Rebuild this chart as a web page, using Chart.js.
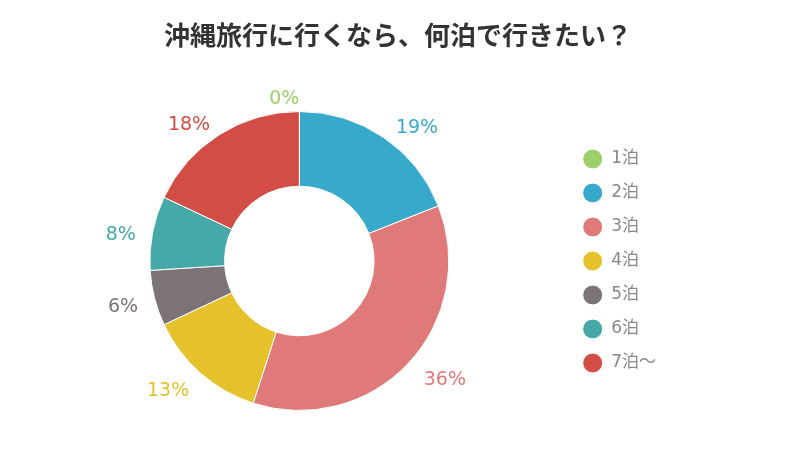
<!DOCTYPE html>
<html>
<head>
<meta charset="utf-8">
<script src="https://cdn.jsdelivr.net/npm/chart.js"></script>
<style>
  html, body { margin: 0; padding: 0; background: #fff; }
  #wrap { width: 800px; height: 450px; }
</style>
</head>
<body>
<div id="wrap"><canvas id="nightsChart" width="800" height="450"></canvas></div>
<script>
// データ
const labels = ['1泊', '2泊', '3泊', '4泊', '5泊', '6泊', '7泊～'];
const percents = [0, 19, 36, 13, 6, 8, 18];
const colors = ['#9dcf6b', '#37a9cb', '#e07a7a', '#e5c12b', '#7b7375', '#45a9a8', '#d14d45'];
const titleText = '沖縄旅行に行くなら、何泊で行きたい？';

// タイトル（キャンバス全幅の中央に描く）
const pageTitle = {
    id: 'pageTitle',
    afterDraw(chart) {
        const ctx = chart.ctx;
        ctx.save();
        ctx.font = 'bold 26px "Noto Sans CJK JP", sans-serif';
        ctx.fillStyle = '#333333';
        ctx.textAlign = 'center';
        ctx.textBaseline = 'middle';
        ctx.fillText(titleText, 398, 35);
        ctx.restore();
    }
};

// 外側のパーセント表示
const outerLabels = {
    id: 'outerLabels',
    afterDatasetsDraw(chart) {
        const ctx = chart.ctx;
        const meta = chart.getDatasetMeta(0);
        ctx.save();
        ctx.font = '19px "DejaVu Sans", Verdana, sans-serif';
        ctx.textBaseline = 'middle';
        meta.data.forEach((arc, i) => {
            const p = arc.getProps(['x', 'y', 'startAngle', 'endAngle', 'outerRadius'], true);
            const mid = (p.startAngle + p.endAngle) / 2;
            const r = p.outerRadius + 17;
            const right = Math.cos(mid) > 0.01;
            const x = p.x + Math.cos(mid) * r + (right ? 3 : 0);
            const y = p.y + Math.sin(mid) * r + 5;
            ctx.fillStyle = colors[i];
            ctx.textAlign = right ? 'left' : 'right';
            ctx.fillText(percents[i] + '%', x, y);
        });
        ctx.restore();
    }
};

new Chart(document.getElementById('nightsChart'), {
    type: 'doughnut',
    data: {
        labels: labels,
        datasets: [{
            data: percents,
            backgroundColor: colors,
            borderColor: '#ffffff',
            borderWidth: 1
        }]
    },
    options: {
        responsive: false,
        devicePixelRatio: 1,
        animation: false,
        cutout: '50%',
        layout: { padding: { left: 33, right: 134, top: 111, bottom: 39 } },
        plugins: {
            title: { display: false },
            legend: {
                position: 'right',
                fullSize: false,
                labels: {
                    usePointStyle: true,
                    pointStyle: 'circle',
                    boxHeight: 14,
                    pointStyleWidth: 20,
                    padding: 17,
                    color: '#888888',
                    font: { family: '"DejaVu Sans", "Noto Sans CJK JP", sans-serif', size: 17 }
                }
            },
            tooltip: { enabled: false }
        }
    },
    plugins: [outerLabels, pageTitle]
});
</script>
</body>
</html>
